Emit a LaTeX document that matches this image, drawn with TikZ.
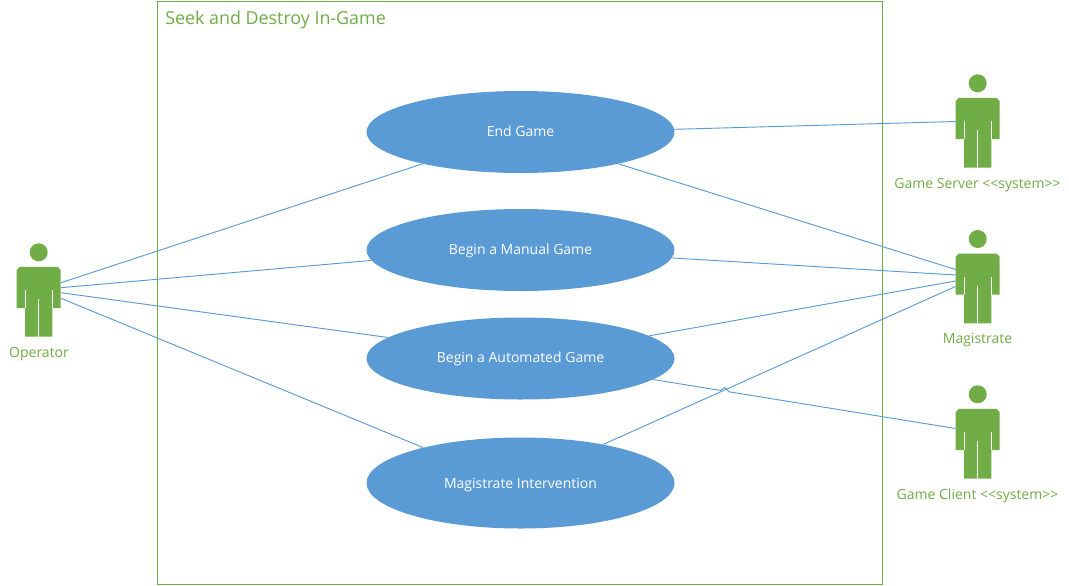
\documentclass[tikz,border=0pt]{standalone}
\usepackage{fontspec}
\setmainfont{Open Sans}
\usetikzlibrary{shapes.geometric,calc}
\definecolor{ublue}{HTML}{5B9BD5}
\definecolor{ugreen}{HTML}{70AD47}
\tikzset{
  px/.style={x=0.75pt,y=-0.75pt},
  usecase/.style={ellipse,fill=ublue,draw=none,minimum width=231pt,minimum height=61.5pt,inner sep=0pt,text=white,text height=9pt,text depth=2.5pt,font=\fontsize{10.5pt}{12pt}\selectfont},
  bigcase/.style={usecase,minimum height=68.25pt,text height=10.5pt},
  link/.style={draw=ublue,line width=0.7pt},
  actorlabel/.style={text=ugreen,font=\fontsize{10.5pt}{12pt}\selectfont,inner sep=0pt,text height=7.5pt,text depth=2.5pt},
  actor/.pic={
    \fill[ugreen] (0,0) circle[radius=9];
    \fill[ugreen] (-22,18) -- (-19,14.5) -- (19,14.5) -- (22,18) -- (22,55.7) -- (13.6,55.7) -- (13.6,84.4) -- (-13.6,84.4) -- (-13.6,55.7) -- (-22,55.7) -- cycle;
    \draw[white,line width=0.5pt] (-13.6,37.7) -- (-13.6,55.7) (13.6,37.7) -- (13.6,55.7) (0,46.7) -- (0,84.4);
  }
}
\begin{document}
\begin{tikzpicture}[px]
\useasboundingbox (0,0) rectangle (1069,585);
\fill[white] (0,0) rectangle (1069,585);
\node[draw=ugreen,line width=0.75pt,minimum width=544pt,minimum height=437.25pt,inner sep=0pt,anchor=north west] (box) at (157,1) {};
\node[anchor=west,text=ugreen,inner sep=0pt,font=\fontsize{13.4pt}{16pt}\selectfont] (title) at (165,20) {Seek and Destroy In-Game};
\node[usecase] (e1) at (520.5,132) {End Game};
\node[usecase] (e2) at (520.5,250) {Begin a Manual Game};
\node[usecase] (e3) at (520.5,358.5) {Begin a Automated Game};
\node[bigcase] (e4) at (520.5,483) {Magistrate Intervention};
\pic at (38.7,252.3) {actor};
\pic at (977.7,83.3) {actor};
\pic at (977.7,239) {actor};
\pic at (977.7,394.3) {actor};
\node[actorlabel] (lop) at (39,354) {Operator};
\node[actorlabel] (lsrv) at (977.5,185) {Game Server <{}<system>{}>};
\node[actorlabel] (lmag) at (977.5,340.5) {Magistrate};
\node[actorlabel] (lcli) at (977.5,496) {Game Client <{}<system>{}>};
\coordinate (opa) at (61,282.7);
\coordinate (opb) at (61,287.7);
\coordinate (opc) at (61,292.7);
\coordinate (opd) at (61,298.3);
\coordinate (srv) at (955.5,121.5);
\coordinate (maga) at (955.5,269.5);
\coordinate (magb) at (955.5,275);
\coordinate (magc) at (955.5,281);
\coordinate (magd) at (955.5,286.5);
\coordinate (cli) at (955.5,428.5);
\draw[link] (opa) -- (e1.198.5);
\draw[link] (opb) -- (e2.184.7);
\draw[link] (opc) -- (e3.171);
\draw[link] (opd) -- (e4.160);
\draw[link] (e1.1.5) -- (srv);
\draw[link] (e1.-18) -- (maga);
\draw[link] (e2.-3.4) -- (magb);
\draw[link] (e3.10.4) -- (magc);
\draw[link] (e4.25) -- (magd);
\draw[link] (e3.-9.6) -- ($(e3.-9.6)!0.2226!(cli)$) -- ($(e3.-9.6)!0.2366!(cli)+(0,-3.5)$) -- ($(e3.-9.6)!0.2506!(cli)$) -- (cli);
\end{tikzpicture}
\end{document}
